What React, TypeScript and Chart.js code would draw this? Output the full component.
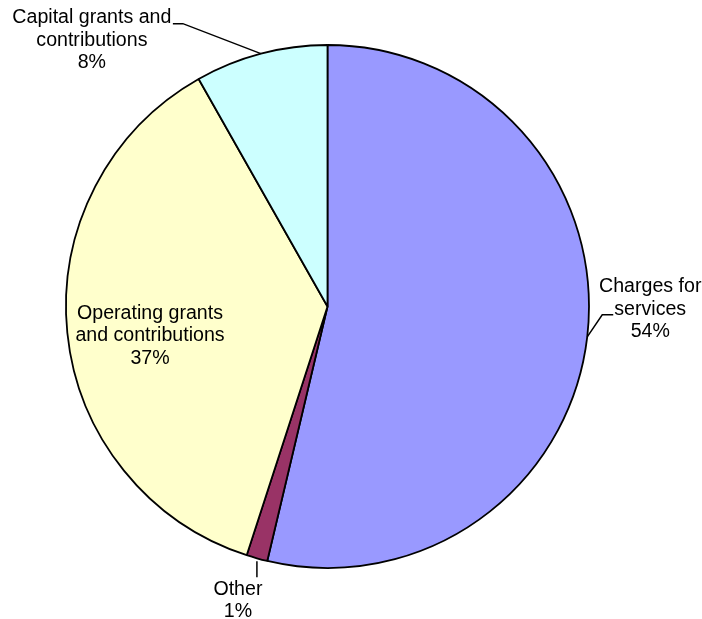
import React, { useEffect, useRef } from "react";
import { Chart, registerables } from "chart.js";

Chart.register(...registerables);

const categories = ["Charges for services", "Other", "Operating grants and contributions", "Capital grants and contributions"];
const values = [53.7, 1.3, 36.8, 8.2];
const percentLabels = ["54%", "1%", "37%", "8%"];
const labelLines = [["Charges for", "services"], ["Other"], ["Operating grants", "and contributions"], ["Capital grants and", "contributions"]];
const colors = ["#9999FF", "#993366", "#FFFFCC", "#CCFFFF"];

const W = 702;
const H = 619;
const FONT = '19.6px "Liberation Sans", Arial, sans-serif';
const LH = 22.5;

// label layout relative to the arc anchor (outer edge at mid-angle), or to the centre for inside labels
type Lay = { inside?: boolean; dx: number; dy: number; leader?: number[][] };
const layouts: Lay[] = [
  { dx: 63, dy: -50, leader: [[0, 0], [15, -22], [26, -22]] },
  { dx: -19, dy: 31, leader: [[0, 3], [0, 19]] },
  { inside: true, dx: -177.5, dy: 7 },
  { dx: -169, dy: -36, leader: [[0, 0], [-78, -30], [-88, -30]] },
];

const labelPlugin = {
  id: "pieLabels",
  afterDraw(chart: any) {
    const ctx = chart.ctx;
    const meta = chart.getDatasetMeta(0);
    ctx.save();
    ctx.font = FONT;
    ctx.fillStyle = "#000";
    ctx.strokeStyle = "#000";
    ctx.lineWidth = 1.5;
    ctx.textAlign = "center";
    ctx.textBaseline = "middle";
    meta.data.forEach((arc: any, i: number) => {
      const { x, y, startAngle, endAngle, outerRadius } = arc.getProps(["x", "y", "startAngle", "endAngle", "outerRadius"], true);
      const mid = (startAngle + endAngle) / 2;
      const lay = layouts[i];
      let ax: number, ay: number;
      if (lay.inside) {
        ax = x;
        ay = y;
      } else {
        ax = x + Math.cos(mid) * outerRadius;
        ay = y + Math.sin(mid) * outerRadius;
      }
      if (lay.leader) {
        ctx.beginPath();
        lay.leader.forEach((p, k) => {
          if (k === 0) ctx.moveTo(ax + p[0], ay + p[1]);
          else ctx.lineTo(ax + p[0], ay + p[1]);
        });
        ctx.stroke();
      }
      const lines = [...labelLines[i], percentLabels[i]];
      lines.forEach((t, k) => {
        ctx.fillText(t, ax + lay.dx, ay + lay.dy + k * LH);
      });
    });
    ctx.restore();
  },
};

export default function App() {
  const ref = useRef<HTMLCanvasElement>(null);
  useEffect(() => {
    if (!ref.current) return;
    const chart = new Chart(ref.current, {
      type: "pie",
      data: {
        labels: categories,
        datasets: [
          {
            data: values,
            backgroundColor: colors,
            borderColor: "#000",
            borderWidth: 1.8,
          },
        ],
      },
      options: {
        responsive: false,
        animation: false,
        radius: 261.5,
        layout: { padding: { left: 0, right: 47, top: 0, bottom: 6 } },
        plugins: {
          legend: { display: false },
          tooltip: { enabled: false },
        },
      } as any,
      plugins: [labelPlugin],
    });
    return () => chart.destroy();
  }, []);
  return (
    <div style={{ position: "absolute", left: 0, top: 0, width: W, height: H, background: "#fff" }}>
      <canvas ref={ref} width={W} height={H} style={{ width: W, height: H }} />
    </div>
  );
}
